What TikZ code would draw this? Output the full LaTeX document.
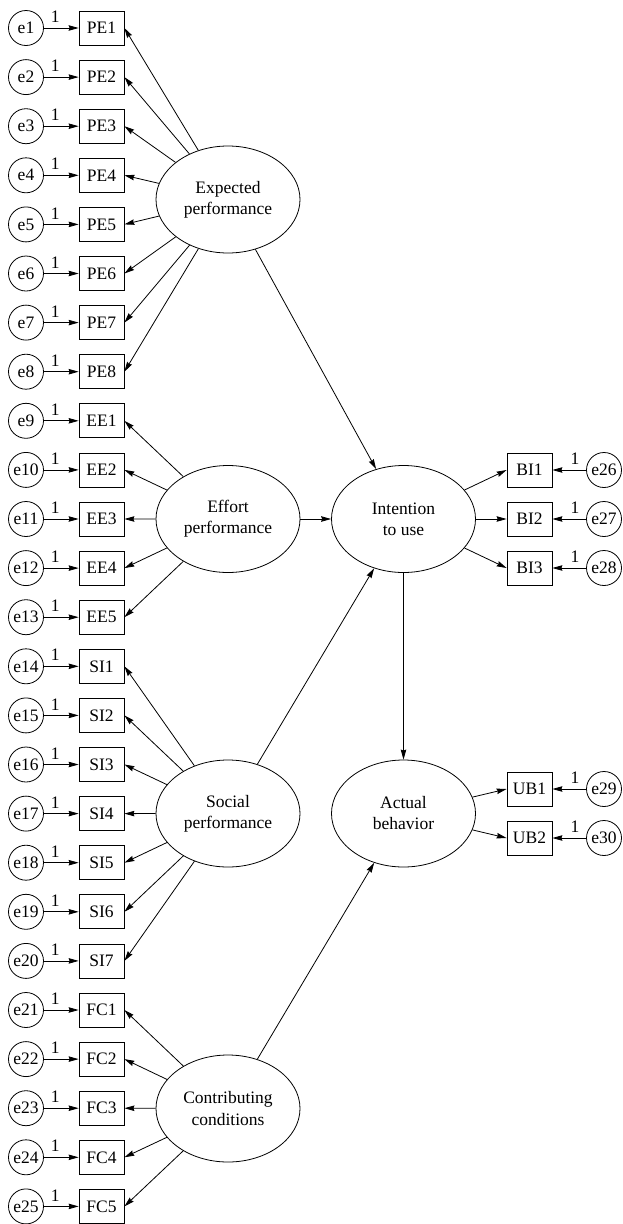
\documentclass[tikz,border=0pt]{standalone}
\usepackage{fontspec}
\setmainfont{Liberation Serif}
\usepackage{tikz}
\usetikzlibrary{shapes.geometric, arrows.meta}

\begin{document}
\begin{tikzpicture}[x=1pt, y=-1pt, line width=0.8pt,
  font=\fontsize{17.5}{21}\selectfont,
  latent/.style={draw, ellipse, minimum width=144pt, minimum height=107pt, inner sep=0pt, align=center},
  indicator/.style={draw, rectangle, minimum width=45pt, minimum height=34pt, inner sep=0pt},
  errc/.style={draw, circle, minimum size=35pt, inner sep=0pt},
  arr/.style={-{Stealth[length=10pt, width=5.5pt, inset=1pt]}},
  one/.style={pos=.33, above=5pt, inner sep=0pt}]
  \useasboundingbox (0,0) rectangle (622,1224);

  % Error terms and indicators (left column)
  \foreach [count=\i] \lab in {PE1,PE2,PE3,PE4,PE5,PE6,PE7,PE8,EE1,EE2,EE3,EE4,EE5,SI1,SI2,SI3,SI4,SI5,SI6,SI7,FC1,FC2,FC3,FC4,FC5} {
    \node[errc] (e\i) at (26, {28+49.1*(\i-1)}) {e\i};
    \node[indicator] (\lab) at (101.5, {28+49.1*(\i-1)}) {\lab};
    \draw[arr] (e\i) -- node[one] {1} (\lab);
  }

  % Error terms and indicators (right column)
  \foreach [count=\j] \lab/\y in {BI1/470,BI2/519,BI3/568,UB1/789,UB2/838} {
    \pgfmathtruncatemacro{\k}{25+\j}
    \node[indicator] (\lab) at (529.5, \y) {\lab};
    \node[errc] (e\k) at (604, \y) {e\k};
    \draw[arr] (e\k) -- node[one] {1} (\lab);
  }

  % Latent variables
  \node[latent] (EP) at (228, 199.5) {Expected\\performance};
  \node[latent] (EF) at (228, 519) {Effort\\performance};
  \node[latent] (SP) at (228, 813.5) {Social\\performance};
  \node[latent] (CC) at (228, 1108.5) {Contributing\\conditions};
  \node[latent] (IU) at (403.5, 519) {Intention\\to use};
  \node[latent] (AB) at (403.5, 813.5) {Actual\\behavior};

  % Loadings
  \foreach \k in {1,...,8} \draw[arr] (EP) -- (PE\k.east);
  \foreach \k in {1,...,5} \draw[arr] (EF) -- (EE\k.east);
  \foreach \k in {1,...,7} \draw[arr] (SP) -- (SI\k.east);
  \foreach \k in {1,...,5} \draw[arr] (CC) -- (FC\k.east);
  \foreach \k in {1,2,3} \draw[arr] (IU) -- (BI\k.west);
  \foreach \k in {1,2} \draw[arr] (AB) -- (UB\k.west);

  % Structural paths
  \draw[arr] (EP) -- (IU);
  \draw[arr] (EF) -- (IU);
  \draw[arr] (SP) -- (IU);
  \draw[arr] (IU) -- (AB);
  \draw[arr] (CC) -- (AB);
\end{tikzpicture}
\end{document}
